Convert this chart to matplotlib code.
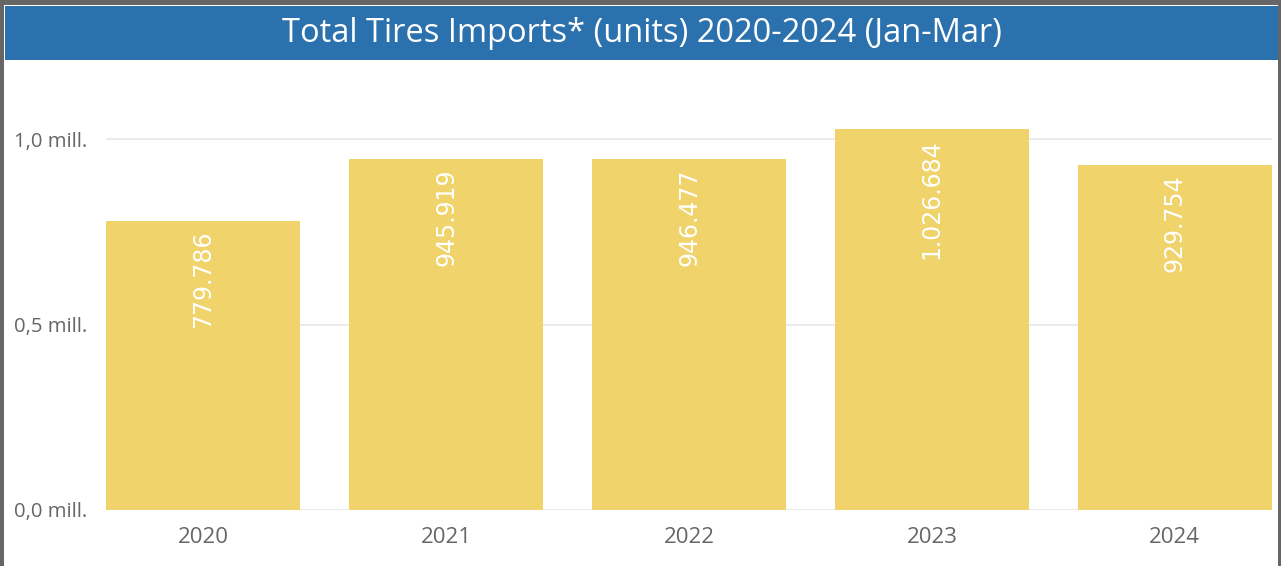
import matplotlib
matplotlib.use('Agg')
import matplotlib.pyplot as plt
from matplotlib.patches import Rectangle
from matplotlib.ticker import FuncFormatter

years = ['2020', '2021', '2022', '2023', '2024']
imports = [779786, 945919, 946477, 1026684, 929754]
yticks = [0, 500000, 1000000]

W, H = 1281, 566
fig = plt.figure(figsize=(W / 100, H / 100), dpi=100)
fig.patch.set_facecolor('white')

# frame and title band
fig.add_artist(Rectangle((0, (H - 5) / H), 1, 5 / H, transform=fig.transFigure,
                         facecolor='#666666', edgecolor='none'))
fig.add_artist(Rectangle((0, 0), 3.5 / W, 1, transform=fig.transFigure,
                         facecolor='#666666', edgecolor='none'))
fig.add_artist(Rectangle((1277.5 / W, 0), 3.5 / W, 1, transform=fig.transFigure,
                         facecolor='#666666', edgecolor='none'))
fig.add_artist(Rectangle((4.5 / W, (H - 60) / H), 1273 / W, 54 / H,
                         transform=fig.transFigure, facecolor='#2B71AD', edgecolor='none'))
fig.text(642 / W, (H - 33) / H, 'Total Tires Imports* (units) 2020-2024 (Jan-Mar)',
         color='white', fontsize=23.5, family='Open Sans', ha='center', va='center')

ymax = 1.17e6
ax = fig.add_axes([106 / W, 56 / H, 1166 / W, ymax / 1e6 * 371 / H])
x = range(len(years))
bars = ax.bar(x, imports, width=0.8, color='#F0D36B', zorder=3)
ax.set_xlim(-0.4, len(years) - 0.6)
ax.set_ylim(0, ymax)
ax.set_xticks(list(x))
ax.set_xticklabels(years)
ax.set_yticks(yticks)
ax.yaxis.set_major_formatter(FuncFormatter(lambda v, p: f'{v / 1e6:.1f}'.replace('.', ',') + ' mill.'))
ax.grid(axis='y', color='#e6e6e6', linewidth=1.1, zorder=0)
for s in ax.spines.values():
    s.set_visible(False)
ax.tick_params(length=0, colors='#666666')
ax.tick_params(axis='x', pad=12, labelsize=16)
ax.tick_params(axis='y', pad=0, labelsize=14.6)
for lbl in ax.get_yticklabels():
    lbl.set_family('Open Sans')
    lbl.set_ha('left')
    lbl.set_x(-(106 - 14) / 1166)
for lbl in ax.get_xticklabels():
    lbl.set_family('Open Sans')

for b, v in zip(bars, imports):
    ax.annotate(f'{v:,}'.replace(',', '.'), (b.get_x() + b.get_width() / 2, v),
                xytext=(0, -7), textcoords='offset points', rotation=90,
                ha='center', va='top', color='white', fontsize=17, family='DejaVu Sans',
                zorder=4)

fig.savefig('out.png', dpi=100)
